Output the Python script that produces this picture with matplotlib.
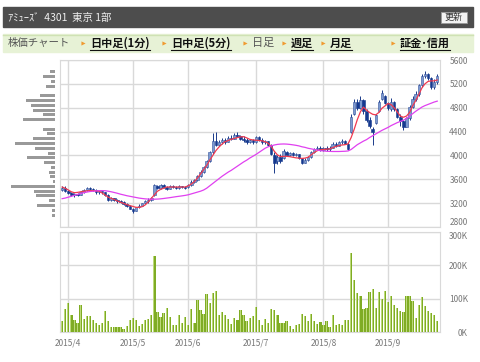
import numpy as np
import pandas as pd
import matplotlib
matplotlib.use('Agg')
import matplotlib.pyplot as plt
from matplotlib.patches import Rectangle

plt.rcParams['font.family'] = ['Noto Sans CJK JP', 'DejaVu Sans']

# trading days (Tokyo), 2015/3/30 - 2015/9/28
holidays = ['2015-04-29', '2015-05-04', '2015-05-05', '2015-05-06',
            '2015-07-20', '2015-09-21', '2015-09-22', '2015-09-23']
dates = pd.bdate_range('2015-03-30', '2015-09-28')
dates = dates[~dates.isin(pd.to_datetime(holidays))]

opens = [3420, 3460, 3400, 3370, 3330, 3350, 3340, 3380, 3420, 3450,
         3430, 3420, 3380, 3400, 3380, 3340, 3260, 3280, 3260, 3230,
         3220, 3190, 3150, 3100, 3070, 3130, 3160, 3200, 3230, 3260,
         3330, 3480, 3460, 3500, 3470, 3440, 3480, 3470, 3450, 3480,
         3470, 3470, 3500, 3560, 3580, 3660, 3730, 3800, 3900, 4050,
         4250, 4180, 4220, 4260, 4230, 4300, 4280, 4350, 4330, 4280,
         4260, 4230, 4260, 4220, 4310, 4260, 4220, 4240, 4180, 4000,
         3900, 3980, 3950, 4060, 4010, 4040, 4000, 4020, 3950, 3880,
         3930, 3970, 4060, 4110, 4130, 4090, 4120, 4100, 4130, 4200,
         4160, 4220, 4240, 4200, 4400, 4700, 4900, 4800, 4930, 4750,
         4600, 4450, 4550, 4750, 4950, 5000, 4880, 4780, 4900, 4780,
         4650, 4580, 4480, 4620, 4820, 4950, 5030, 5180, 5330, 5370,
         5300, 5150, 5230]
closes = [3460, 3400, 3370, 3330, 3350, 3340, 3380, 3420, 3450, 3430,
          3420, 3380, 3400, 3380, 3340, 3260, 3280, 3260, 3230, 3220,
          3190, 3150, 3110, 3060, 3130, 3160, 3200, 3230, 3260, 3280,
          3500, 3460, 3500, 3470, 3440, 3480, 3470, 3450, 3480, 3470,
          3460, 3500, 3560, 3580, 3660, 3730, 3800, 3900, 4050, 4250,
          4180, 4220, 4260, 4230, 4300, 4280, 4350, 4330, 4280, 4260,
          4230, 4260, 4220, 4310, 4260, 4220, 4240, 4180, 4020, 3870,
          3980, 3900, 4080, 4010, 4040, 4000, 4020, 3950, 3880, 3930,
          3970, 4060, 4110, 4130, 4090, 4120, 4100, 4130, 4200, 4160,
          4220, 4240, 4200, 4110, 4650, 4900, 4800, 4930, 4750, 4600,
          4500, 4400, 4680, 4900, 5050, 4880, 4800, 4900, 4780, 4650,
          4580, 4480, 4620, 4820, 4950, 5030, 5180, 5330, 5370, 5300,
          5150, 5230, 5330]
highs = [3480, 3490, 3420, 3390, 3370, 3370, 3390, 3440, 3470, 3470,
         3450, 3430, 3420, 3410, 3390, 3350, 3300, 3290, 3270, 3250,
         3240, 3200, 3170, 3120, 3140, 3180, 3210, 3250, 3290, 3310,
         3520, 3510, 3520, 3520, 3490, 3500, 3500, 3490, 3500, 3490,
         3490, 3520, 3580, 3610, 3680, 3750, 3830, 3930, 4080, 4380,
         4400, 4260, 4300, 4290, 4320, 4340, 4370, 4390, 4350, 4320,
         4290, 4280, 4280, 4330, 4330, 4290, 4260, 4250, 4190, 4060,
         4000, 4020, 4100, 4080, 4060, 4060, 4040, 4030, 3960, 3950,
         3990, 4080, 4130, 4150, 4150, 4140, 4150, 4150, 4230, 4220,
         4240, 4270, 4260, 4220, 4700, 4950, 4950, 5000, 4950, 4780,
         4650, 4480, 4700, 4930, 5100, 5020, 4900, 4960, 4920, 4800,
         4700, 4600, 4650, 4850, 5000, 5080, 5200, 5370, 5410, 5390,
         5320, 5280, 5360]
lows = [3400, 3380, 3350, 3320, 3310, 3320, 3330, 3370, 3410, 3410,
        3400, 3350, 3360, 3360, 3320, 3240, 3230, 3240, 3210, 3200,
        3170, 3130, 3100, 3030, 3060, 3120, 3150, 3180, 3210, 3240,
        3320, 3430, 3440, 3450, 3420, 3430, 3450, 3430, 3440, 3450,
        3440, 3460, 3490, 3540, 3570, 3640, 3710, 3790, 3890, 4030,
        4150, 4160, 4200, 4200, 4220, 4260, 4270, 4310, 4260, 4230,
        4200, 4210, 4200, 4210, 4240, 4200, 4200, 4160, 4000, 3700,
        3850, 3880, 3940, 4000, 3990, 3990, 3990, 3940, 3860, 3870,
        3910, 3960, 4040, 4090, 4070, 4070, 4080, 4070, 4120, 4140,
        4150, 4200, 4190, 4090, 4380, 4680, 4770, 4780, 4700, 4560,
        4460, 4180, 4520, 4730, 4930, 4860, 4760, 4750, 4750, 4620,
        4500, 4430, 4470, 4600, 4800, 4920, 5000, 5150, 5300, 5270,
        5120, 5120, 5200]
ma_short = [3470, 3450, 3420, 3390, 3375, 3380, 3390, 3400, 3405, 3410,
            3410, 3405, 3400, 3370, 3335, 3300, 3280, 3260, 3235, 3215,
            3195, 3175, 3160, 3145, 3130, 3130, 3140, 3170, 3220, 3280,
            3340, 3400, 3430, 3450, 3470, 3470, 3470, 3470, 3470, 3470,
            3470, 3490, 3520, 3560, 3620, 3690, 3760, 3830, 3920, 4000,
            4080, 4140, 4190, 4230, 4250, 4270, 4285, 4300, 4310, 4315,
            4295, 4270, 4260, 4255, 4250, 4245, 4230, 4205, 4150, 4070,
            4010, 3980, 3985, 3985, 3980, 3970, 3960, 3955, 3950, 3955,
            3970, 4010, 4050, 4080, 4095, 4100, 4105, 4110, 4130, 4150,
            4165, 4175, 4180, 4195, 4300, 4440, 4600, 4730, 4810, 4760,
            4720, 4690, 4680, 4720, 4790, 4830, 4870, 4850, 4800, 4730,
            4660, 4640, 4660, 4720, 4830, 4920, 5020, 5130, 5200, 5240,
            5250, 5250, 5265]
ma_long = [3275, 3285, 3300, 3315, 3330, 3345, 3360, 3375, 3385, 3395,
           3400, 3405, 3410, 3410, 3408, 3400, 3390, 3378, 3365, 3350,
           3338, 3325, 3315, 3305, 3295, 3285, 3278, 3272, 3268, 3266,
           3266, 3268, 3272, 3278, 3285, 3292, 3300, 3308, 3315, 3322,
           3330, 3340, 3355, 3370, 3385, 3400, 3420, 3450, 3490, 3530,
           3570, 3610, 3650, 3685, 3720, 3750, 3785, 3820, 3855, 3890,
           3920, 3955, 3985, 4015, 4050, 4085, 4120, 4145, 4160, 4175,
           4185, 4190, 4192, 4190, 4185, 4178, 4170, 4160, 4145, 4135,
           4120, 4110, 4100, 4090, 4080, 4075, 4070, 4068, 4066, 4066,
           4066, 4068, 4070, 4075, 4100, 4140, 4180, 4210, 4240, 4265,
           4300, 4330, 4360, 4390, 4420, 4445, 4470, 4500, 4525, 4550,
           4570, 4590, 4620, 4660, 4700, 4740, 4775, 4810, 4835, 4855,
           4875, 4895, 4910]
volume = [33, 70, 88, 51, 37, 28, 80, 40, 49, 47,
          37, 27, 20, 26, 64, 34, 16, 15, 16, 14,
          8, 17, 37, 43, 36, 18, 25, 37, 40, 52,
          228, 61, 44, 56, 73, 46, 21, 21, 51, 28,
          45, 21, 70, 28, 96, 66, 55, 113, 87, 116,
          124, 51, 59, 51, 39, 24, 41, 35, 65, 51,
          32, 41, 49, 75, 37, 22, 40, 26, 69, 67,
          51, 28, 28, 32, 17, 9, 21, 24, 55, 47,
          33, 55, 32, 25, 30, 21, 32, 16, 51, 22,
          24, 22, 37, 37, 237, 156, 117, 108, 68, 72,
          119, 129, 72, 119, 100, 123, 91, 108, 80, 72,
          64, 61, 108, 108, 94, 41, 80, 104, 78, 62,
          58, 51, 34]
volume = np.array(volume) * 1000

# volume by price (left side)
vp_price = [3000, 3080, 3160, 3240, 3320, 3400, 3480, 3560, 3640, 3720,
            3800, 3880, 3960, 4040, 4120, 4200, 4280, 4360, 4440, 4520,
            4600, 4680, 4760, 4840, 4920, 5000, 5080, 5160, 5240, 5320, 5400]
vp_vol = [8, 8, 51, 18, 54, 59, 125, 7, 14, 18,
          12, 31, 80, 20, 57, 115, 62, 24, 35, 0,
          91, 33, 62, 68, 82, 43, 0, 27, 12, 35, 15]

price_ticks = [2800, 3200, 3600, 4000, 4400, 4800, 5200, 5600]
vol_ticks = [0, 100000, 200000, 300000]
vol_labels = ['0K', '100K', '200K', '300K']

x = np.arange(len(dates))
month_pos = [i for i in range(1, len(dates)) if dates[i].month != dates[i - 1].month]
month_labels = ['%d/%d' % (dates[i].year, dates[i].month) for i in month_pos]

W, H = 480, 362
fig = plt.figure(figsize=(4.8, 3.62), dpi=100)


def box(x0, y0, x1, y1):
    return [x0 / W, 1 - y1 / H, (x1 - x0) / W, (y1 - y0) / H]


# page header
bg = fig.add_axes([0, 0, 1, 1])
bg.set_xlim(0, W)
bg.set_ylim(H, 0)
bg.axis('off')
bg.add_patch(Rectangle((3, 7), 470, 20, color='#4d4d4d'))
bg.text(8, 17.5, 'ｱﾐｭｰｽﾞ  4301  東京 1部', color='#eeeeee', fontsize=7.5, va='center')
bg.add_patch(Rectangle((441, 12), 26, 11, facecolor='#f2f2f2', edgecolor='#999999', lw=0.6))
bg.text(454, 17.5, '更新', color='#333333', fontsize=6.5, ha='center', va='center')
bg.add_patch(Rectangle((3, 34), 470, 18, color='#e7f2d6'))
bg.plot([3, 473], [34.5, 34.5], color='#cfe2b4', lw=1)
bg.text(8, 43, '株価チャート', color='#555555', fontsize=7.5, va='center')

links = [('日中足(1分)', 83, True), ('日中足(5分)', 164, True), ('日足', 245, False),
         ('週足', 284, True), ('月足', 323, True), ('証金･信用', 393, True)]
fig.canvas.draw()
r = fig.canvas.get_renderer()
for label, xa, active in links:
    bg.plot(xa, 43, marker='>', markersize=3, color='#f09a30', mec='none')
    if active:
        t = bg.text(xa + 7, 43, label, color='#111111', fontsize=8, va='center', fontweight='bold')
        ext = t.get_window_extent(renderer=r)
        bg.plot([xa + 7, xa + 7 + ext.width], [49.5, 49.5], color='#111111', lw=0.8)
    else:
        bg.text(xa + 7, 43, label, color='#555555', fontsize=8, va='center')

grid_c = '#d9d9d9'
lab_c = '#777777'

# price panel
ax = fig.add_axes(box(60, 60, 440, 227))
up = np.array(closes) >= np.array(opens)
body_lo = np.minimum(opens, closes)
body_h = np.maximum(np.abs(np.array(closes) - np.array(opens)), 10)
ax.vlines(x, lows, highs, color='#1a3a8a', lw=0.7, zorder=3)
ax.bar(x[up], body_h[up], bottom=body_lo[up], width=0.8, color='#7d9bd0',
       edgecolor='#33509c', lw=0.4, zorder=4)
ax.bar(x[~up], body_h[~up], bottom=body_lo[~up], width=0.8, color='#15398f',
       edgecolor='#15398f', lw=0.4, zorder=4)
ax.plot(x, ma_short, color='#f03a50', lw=0.9, zorder=5)
ax.plot(x, ma_long, color='#e040f0', lw=0.9, zorder=5)
ax.set_ylim(2800, 5600)
ax.set_xlim(-0.7, 122.9)
ax.set_yticks(price_ticks)
ax.set_xticks(month_pos)
ax.set_xticklabels([])
ax.grid(True, color=grid_c, lw=1)
ax.set_axisbelow(True)

# volume panel
axv = fig.add_axes(box(60, 232, 440, 332))
axv.bar(x, volume, width=0.75, color='#7fac24', zorder=3)
axv.bar(x - 0.13, volume, width=0.32, color='#bcd97a', zorder=4)
axv.set_ylim(0, 300000)
axv.set_xlim(-0.7, 122.9)
axv.set_yticks(vol_ticks)
axv.set_yticklabels(vol_labels)
axv.set_xticks(month_pos)
axv.set_xticklabels(month_labels)
axv.grid(True, color=grid_c, lw=1)
axv.set_axisbelow(True)

for a in (ax, axv):
    a.yaxis.tick_right()
    a.tick_params(length=0, labelsize=6, labelcolor=lab_c)
    a.tick_params(axis='y', pad=20)
    for lbl in a.get_yticklabels():
        lbl.set_horizontalalignment('right')
    for s in a.spines.values():
        s.set_color(grid_c)
axv.tick_params(axis='x', pad=5)
# keep the 2800 / 300K labels apart where the panels meet
ax.get_yticklabels()[0].set_verticalalignment('bottom')
axv.get_yticklabels()[-1].set_verticalalignment('top')

# volume by price
axh = fig.add_axes(box(7, 60, 55, 227))
axh.barh(vp_price, vp_vol, height=50, color='#999999')
axh.set_xlim(137, 0)
axh.set_ylim(2800, 5600)
axh.axis('off')

fig.savefig('out.png', dpi=100)
